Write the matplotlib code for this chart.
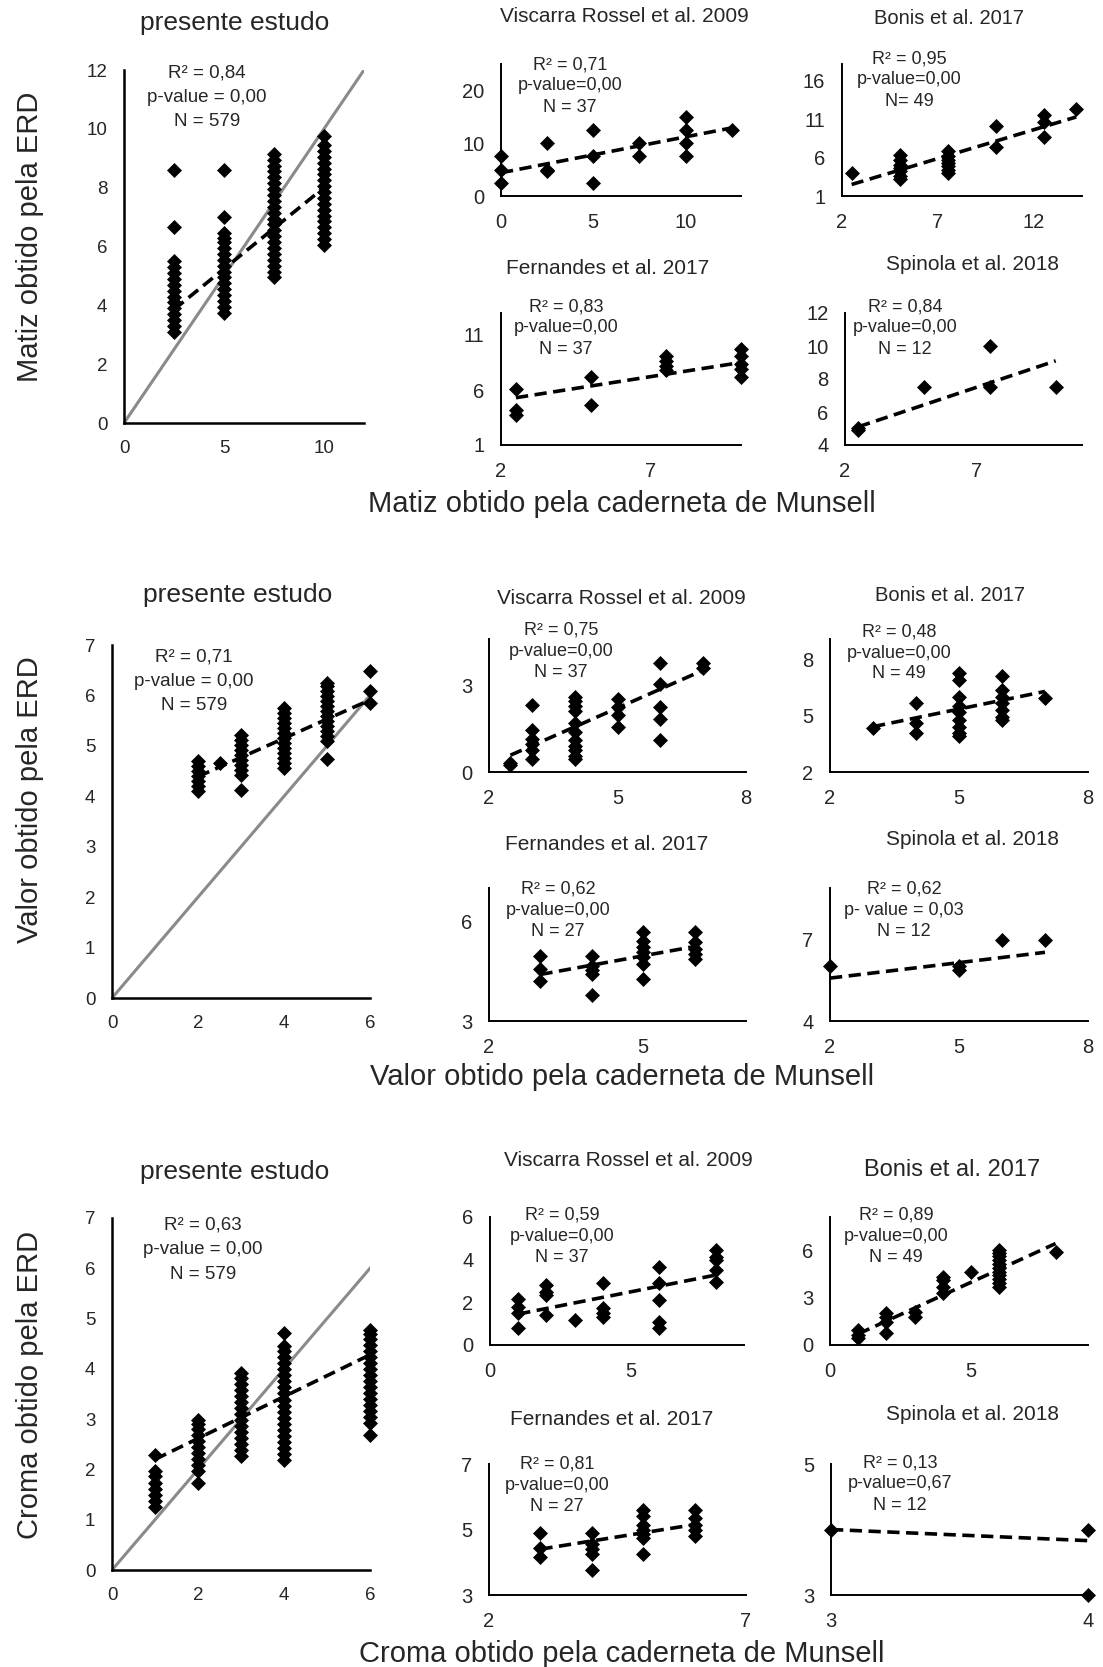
import matplotlib
matplotlib.use('Agg')
import matplotlib.pyplot as plt

W, H = 1103, 1667
FONT = ['Liberation Sans', 'DejaVu Sans']
TXT = '#262626'

# ---------------- Matiz (hue) ----------------
mat_pe = {2.5: [3.1, 3.3, 3.5, 3.7, 3.9, 4.1, 4.3, 4.5, 4.7, 4.9, 5.1, 5.3, 5.5, 6.65, 8.6],
          5: [3.75, 3.95, 4.15, 4.35, 4.55, 4.75, 4.95, 5.15, 5.35, 5.55, 5.75, 5.95, 6.15, 6.3, 6.45, 7.0, 8.6],
          7.5: [4.95, 5.15, 5.35, 5.55, 5.75, 5.95, 6.15, 6.35, 6.55, 6.75, 6.95, 7.15, 7.35, 7.55, 7.75,
                7.95, 8.15, 8.35, 8.55, 8.75, 8.95, 9.15],
          10: [6.05, 6.25, 6.45, 6.65, 6.85, 7.05, 7.25, 7.45, 7.65, 7.85, 8.05, 8.25, 8.45, 8.65, 8.85,
               9.05, 9.25, 9.45, 9.75]}
mat_pe_trend = ([2.5, 10], [3.86, 8.0])
mat_vr = {0: [2.5, 5.0, 7.5], 2.5: [4.7, 5.0, 10.0], 5: [2.5, 7.5, 12.5], 7.5: [7.5, 10.0],
          10: [7.5, 10.0, 12.5, 15.0], 12.5: [12.5]}
mat_vr_trend = ([0, 12.5], [4.4, 12.9])
mat_bo = {2.5: [4.0], 5: [3.15, 3.6, 4.2, 4.65, 5.1, 5.7, 6.4], 7.5: [4.0, 4.4, 4.86, 5.3, 5.7, 6.15, 6.8],
          10: [7.4, 10.1], 12.5: [8.7, 10.7, 11.5], 14.2: [12.4]}
mat_bo_trend = ([2.5, 14.2], [2.5, 11.3])
mat_fe = {2.5: [3.77, 4.16, 6.1], 5: [4.67, 7.17], 7.5: [7.8, 8.2, 8.65, 9.1], 10: [7.2, 7.9, 8.4, 9.1, 9.7]}
mat_fe_trend = ([2.5, 10], [5.3, 8.5])
mat_sp = {2.5: [4.9, 5.05], 5: [7.5], 7.5: [7.5, 10.0], 10: [7.5]}
mat_sp_trend = ([2.5, 10], [5.1, 9.1])

# ---------------- Valor (value) ----------------
val_pe = {2: [4.1, 4.2, 4.3, 4.4, 4.5, 4.6, 4.7], 2.5: [4.66],
          3: [4.13, 4.42, 4.52, 4.62, 4.72, 4.82, 4.92, 5.02, 5.12, 5.22],
          4: [4.56, 4.66, 4.76, 4.86, 4.96, 5.06, 5.16, 5.26, 5.36, 5.46, 5.56, 5.66, 5.75],
          5: [4.74, 5.09, 5.19, 5.29, 5.39, 5.49, 5.59, 5.69, 5.79, 5.89, 5.99, 6.09, 6.19, 6.25],
          6: [5.85, 6.08, 6.48]}
val_pe_trend = ([2, 6], [4.39, 5.91])
val_vr = {2.5: [0.23, 0.31], 3: [0.46, 0.75, 0.98, 1.15, 1.44, 2.31],
          4: [0.46, 0.55, 0.75, 0.9, 1.1, 1.4, 1.7, 2.1, 2.3, 2.45, 2.6], 5: [1.56, 1.96, 2.25, 2.54],
          6: [1.1, 1.85, 2.25, 3.06, 3.77], 7: [3.58, 3.77]}
val_vr_trend = ([2.5, 7], [0.58, 3.52])
val_bo = {3: [4.33], 4: [4.1, 4.63, 5.67], 5: [3.9, 4.1, 4.4, 4.8, 5.2, 5.5, 6.0, 6.9, 7.27],
          6: [4.78, 4.96, 5.3, 5.67, 6.0, 6.37, 7.1], 7: [5.94]}
val_bo_trend = ([3, 7], [4.42, 6.3])
val_fe = {3: [4.2, 4.56, 4.96], 4: [3.79, 4.4, 4.53, 4.66, 4.96],
          5: [4.25, 4.71, 4.91, 5.07, 5.22, 5.42, 5.68], 6: [4.86, 5.01, 5.17, 5.37, 5.68]}
val_fe_trend = ([3, 6], [4.4, 5.24])
val_sp = {2: [6.01], 5: [5.89, 6.01], 6: [7.0], 7: [7.0]}
val_sp_trend = ([2, 7], [5.58, 6.53])

# ---------------- Croma (chroma) ----------------
cro_pe = {1: [1.26, 1.38, 1.5, 1.62, 1.74, 1.86, 1.96, 2.29],
          2: [1.73, 1.96, 2.08, 2.2, 2.32, 2.44, 2.56, 2.68, 2.8, 2.9, 2.99],
          3: [2.26, 2.38, 2.5, 2.62, 2.74, 2.86, 2.98, 3.1, 3.22, 3.34, 3.46, 3.58, 3.7, 3.82, 3.92],
          4: [2.19, 2.31, 2.43, 2.55, 2.67, 2.79, 2.91, 3.03, 3.15, 3.27, 3.39, 3.51, 3.63, 3.75, 3.87,
              3.99, 4.11, 4.23, 4.35, 4.45, 4.71],
          6: [2.69, 2.92, 3.04, 3.16, 3.28, 3.4, 3.52, 3.64, 3.76, 3.88, 4.0, 4.12, 4.24, 4.36, 4.48,
              4.6, 4.7, 4.78]}
cro_pe_trend = ([1, 6], [2.2, 4.28])
cro_vr = {1: [0.78, 1.48, 1.8, 2.14], 2: [1.4, 2.34, 2.5, 2.81], 3: [1.17], 4: [1.33, 1.48, 1.72, 2.89],
          6: [0.78, 1.1, 2.1, 2.89, 3.67], 8: [2.97, 3.52, 3.98, 4.14, 4.45]}
cro_vr_trend = ([1, 8], [1.45, 3.28])
cro_bo = {1: [0.42, 0.63, 0.95], 2: [0.74, 1.47, 1.79, 2.0], 3: [1.79, 2.1], 4: [3.26, 3.68, 4.1, 4.3],
          5: [4.63], 6: [3.68, 3.9, 4.15, 4.4, 4.65, 4.9, 5.15, 5.4, 5.65, 5.85, 6.0], 8: [5.9]}
cro_bo_trend = ([1, 8], [0.7, 6.42])
cro_fe = {3: [4.15, 4.45, 4.9], 4: [3.75, 4.25, 4.4, 4.55, 4.9], 5: [4.25, 4.75, 4.85, 5.0, 5.15, 5.4, 5.6],
          6: [4.8, 5.0, 5.15, 5.35, 5.6]}
cro_fe_trend = ([3, 6], [4.4, 5.15])
cro_sp = {3: [4.0], 4: [3.0, 4.0]}
cro_sp_trend = ([3, 4], [4.0, 3.83])

titles = ['presente estudo', 'Viscarra Rossel et al. 2009', 'Bonis et al. 2017',
          'Fernandes et al. 2017', 'Spinola et al. 2018']
ylabels = ['Matiz obtido pela ERD', 'Valor obtido pela ERD', 'Croma obtido pela ERD']
xlabels = ['Matiz obtido pela caderneta de Munsell', 'Valor obtido pela caderneta de Munsell',
           'Croma obtido pela caderneta de Munsell']

plt.rcParams['font.family'] = FONT
fig = plt.figure(figsize=(W / 100, H / 100), dpi=100)


def px_rect(l, t, r, b):
    return [l / W, 1 - b / H, (r - l) / W, (b - t) / H]


def put(x, y, s, **kw):
    fig.text(x / W, 1 - y / H, s, ha='center', va='center', color=TXT, **kw)


def panel(rect, cols, trend, xlim, ylim, xticks, yticks, stats, spos, title, tpos,
          big=False, tsize=15):
    ax = fig.add_axes(px_rect(*rect))
    if big:
        top = min(xlim[1], ylim[1])
        ax.plot([0, top], [0, top], color='#8a8a8a', lw=2.2, zorder=2)
    for x, ys in cols.items():
        ax.plot([x] * len(ys), ys, ls='none', marker='D', ms=7.4,
                color='black', mec='black', mew=0.5, clip_on=False, zorder=3)
    ax.plot(trend[0], trend[1], color='black', lw=2.6, ls=(0, (3.4, 1.8)), zorder=4)
    ax.set_xlim(*xlim)
    ax.set_ylim(*ylim)
    ax.set_xticks(xticks)
    ax.set_yticks(yticks)
    for s in ['top', 'right']:
        ax.spines[s].set_visible(False)
    for s in ['left', 'bottom']:
        ax.spines[s].set_linewidth(1.8 if big else 1.4)
        ax.spines[s].set_color('black')
    ax.patch.set_alpha(0)
    ax.tick_params(length=0, pad=12, labelsize=13.5 if big else 14.5, labelcolor=TXT)
    dy = 24.5 if big else 21
    for i, line in enumerate(stats):
        put(spos[0], spos[1] + i * dy, line, fontsize=13.5 if big else 13)
    put(tpos[0], tpos[1], title, fontsize=19 if big else tsize)
    return ax


# Row 1 - Matiz
panel((124, 70, 364, 423), mat_pe, mat_pe_trend, (0, 12), (0, 12), [0, 5, 10], list(range(0, 13, 2)),
      ['R² = 0,84', 'p-value = 0,00', 'N = 579'], (207, 73), titles[0], (235, 23), big=True)
panel((501, 64, 741, 196), mat_vr, mat_vr_trend, (0, 13), (0, 25), [0, 5, 10], [0, 10, 20],
      ['R² = 0,71', 'p-value=0,00', 'N = 37'], (570, 65), titles[1], (624, 16))
panel((842, 64, 1082, 196), mat_bo, mat_bo_trend, (2, 14.5), (1, 18.2), [2, 7, 12], [1, 6, 11, 16],
      ['R² = 0,95', 'p-value=0,00', 'N= 49'], (909, 59), titles[2], (949, 19), tsize=14.5)
panel((501, 313, 741, 445), mat_fe, mat_fe_trend, (2, 10), (1, 13), [2, 7], [1, 6, 11],
      ['R² = 0,83', 'p-value=0,00', 'N = 37'], (566, 307), titles[3], (608, 269))
panel((845, 313, 1082, 445), mat_sp, mat_sp_trend, (2, 11), (4, 12), [2, 7], [4, 6, 8, 10, 12],
      ['R² = 0,84', 'p-value=0,00', 'N = 12'], (905, 307), titles[4], (972, 264))

# Row 2 - Valor
panel((112, 645, 370, 998), val_pe, val_pe_trend, (0, 6), (0, 7), [0, 2, 4, 6], list(range(0, 8)),
      ['R² = 0,71', 'p-value = 0,00', 'N = 579'], (194, 657), titles[0], (238, 595), big=True)
panel((489, 639, 746, 772), val_vr, val_vr_trend, (2, 8), (0, 4.6), [2, 5, 8], [0, 3],
      ['R² = 0,75', 'p-value=0,00', 'N = 37'], (561, 630), titles[1], (621, 599))
panel((830, 639, 1088, 772), val_bo, val_bo_trend, (2, 8), (2, 9.1), [2, 5, 8], [2, 5, 8],
      ['R² = 0,48', 'p-value=0,00', 'N = 49'], (899, 632), titles[2], (950, 595), tsize=14.5)
panel((489, 888, 746, 1021), val_fe, val_fe_trend, (2, 7), (3, 7), [2, 5], [3, 6],
      ['R² = 0,62', 'p-value=0,00', 'N = 27'], (558, 889), titles[3], (607, 844))
panel((830, 888, 1088, 1021), val_sp, val_sp_trend, (2, 8), (4, 8.9), [2, 5, 8], [4, 7],
      ['R² = 0,62', 'p- value = 0,03', 'N = 12'], (904, 889), titles[4], (972, 839))

# Row 3 - Croma
panel((112, 1218, 370, 1570), cro_pe, cro_pe_trend, (0, 6), (0, 7), [0, 2, 4, 6], list(range(0, 8)),
      ['R² = 0,63', 'p-value = 0,00', 'N = 579'], (203, 1225), titles[0], (235, 1172), big=True)
panel((490, 1217, 744, 1345), cro_vr, cro_vr_trend, (0, 9), (0, 6), [0, 5], [0, 2, 4, 6],
      ['R² = 0,59', 'p-value=0,00', 'N = 37'], (562, 1215), titles[1], (628, 1161))
panel((830, 1217, 1088, 1345), cro_bo, cro_bo_trend, (0, 9.15), (0, 8.1), [0, 5], [0, 3, 6],
      ['R² = 0,89', 'p-value=0,00', 'N = 49'], (896, 1215), titles[2], (952, 1170), tsize=17)
panel((489, 1464, 746, 1595), cro_fe, cro_fe_trend, (2, 7), (3, 7), [2, 7], [3, 5, 7],
      ['R² = 0,81', 'p-value=0,00', 'N = 27'], (557, 1464), titles[3], (612, 1419))
panel((831, 1464, 1088, 1595), cro_sp, cro_sp_trend, (3, 4), (3, 5), [3, 4], [3, 5],
      ['R² = 0,13', 'p-value=0,67', 'N = 12'], (900, 1463), titles[4], (973, 1414))

for ylab, yc in zip(ylabels, [237, 800, 1385]):
    put(30, yc, ylab, fontsize=21, rotation=90)
for xlab, yc in zip(xlabels, [504, 1077, 1654]):
    put(622, yc, xlab, fontsize=21)

fig.savefig('out.png', dpi=100, facecolor='white')
